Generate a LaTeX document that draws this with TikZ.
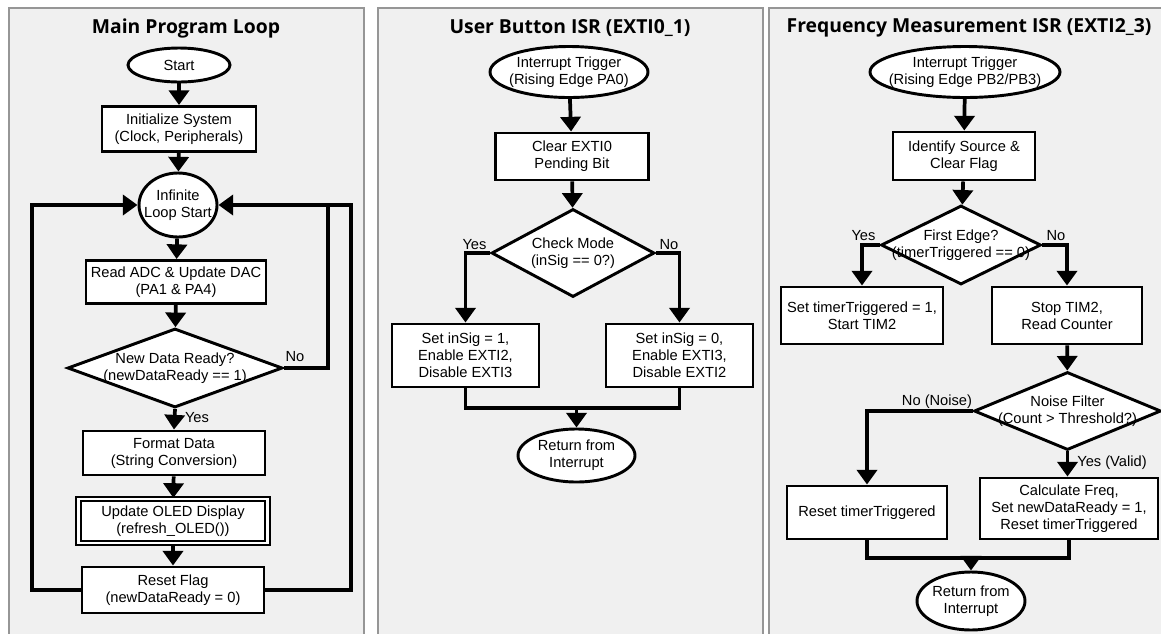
\documentclass[tikz,border=0pt]{standalone}
\usepackage{fontspec}
\setmainfont{Liberation Sans}
\newfontfamily\headfont{Open Sans}
\usetikzlibrary{shapes.geometric, arrows.meta}
\definecolor{panelfill}{RGB}{240,240,240}
\definecolor{panelline}{RGB}{150,150,150}

\tikzset{
  pane/.style={draw=panelline, line width=1pt, fill=panelfill},
  head/.style={font=\headfont\bfseries\fontsize{14.5}{17}\selectfont, inner sep=0pt},
  sz/.style 2 args={minimum width=#1*0.75pt, minimum height=#2*0.75pt},
  body/.style={font=\fontsize{11}{12.8}\selectfont, align=center},
  stepbox/.style={draw, line width=2.2pt, fill=white, body, inner sep=1pt},
  oledbox/.style={draw, line width=1.7pt, double=white, double distance=1.6pt, fill=white, body, inner sep=1pt},
  term/.style={ellipse, draw, line width=2.2pt, fill=white, inner sep=0pt},
  test/.style={diamond, draw, line width=2.2pt, fill=white, inner sep=0pt},
  inner/.style={label={[body, inner sep=0pt]center:#1}},
  flow/.style={line width=2.8pt, -{Triangle[width=15pt, length=11pt]}},
  link/.style={line width=2.8pt},
  tag/.style={body, inner sep=0pt},
}

\begin{document}
\begin{tikzpicture}[x=0.75pt, y=-0.75pt]
\useasboundingbox (0,0) rectangle (1161,633);
\clip (0,0) rectangle (1161,633);
\fill[white] (0,0) rectangle (1161,633);

% three panels
\draw[pane] (9,8) rectangle (364,645);
\draw[pane] (378,8) rectangle (763,645);
\draw[pane] (769,8) rectangle (1175,645);

% ---------------- main program loop ----------------
\node[head] (h1) at (186,28) {Main Program Loop};
\node[term, sz={102}{34}, inner={Start}] (start) at (179,65) {};
\node[stepbox, sz={154}{45}] (init) at (179,129) {Initialize System\\(Clock, Peripherals)};
\node[term, sz={78}{64}, inner={Infinite\\Loop Start}] (loop) at (178,205) {};
\node[stepbox, sz={180}{43}] (adc) at (176,282) {Read ADC \& Update DAC\\(PA1 \& PA4)};
\node[test, sz={215}{79}, inner={New Data Ready?\\(newDataReady == 1)}] (ready) at (175,368) {};
\node[stepbox, sz={182}{44}] (fmt) at (174,453) {Format Data\\(String Conversion)};
\node[oledbox, sz={189}{44}] (oled) at (173,521) {Update OLED Display\\(refresh\_OLED())};
\node[stepbox, sz={182}{46}] (rst) at (173,590) {Reset Flag\\(newDataReady = 0)};

\coordinate (lw) at (32,205);
\coordinate (re) at (351,205);
\coordinate (ne) at (328,205);

\draw[flow] (start) -- (init);
\draw[flow] (init) -- (loop);
\draw[flow] (loop) -- (adc);
\draw[flow] (adc) -- (ready);
\draw[flow] (ready.south) -- (fmt.north);
\draw[flow] (fmt) -- (oled);
\draw[flow] (oled) -- (rst);
\draw[flow] (rst.west) -| (lw) -- (loop.west);
\draw[flow] (rst.east) -| (re) -- (loop.east);
\draw[link] (ready.east) -| (ne);
\node[tag] (no1) at (295,357) {No};
\node[tag] (yes1) at (197,418) {Yes};

% ---------------- user button ISR ----------------
\node[head] (h2) at (570,28) {User Button ISR (EXTI0\_1)};
\node[term, sz={158}{51}, inner={Interrupt Trigger\\(Rising Edge PA0)}] (trig2) at (569,72) {};
\node[stepbox, sz={153}{47}] (clr2) at (572,156.5) {Clear EXTI0\\Pending Bit};
\node[test, sz={163}{88}, inner={Check Mode\\(inSig == 0?)}] (mode) at (573,253) {};
\node[stepbox, sz={147}{63}] (set1) at (465.5,355.5) {Set inSig = 1,\\Enable EXTI2,\\Disable EXTI3};
\node[stepbox, sz={147}{63}] (set0) at (679.5,355.5) {Set inSig = 0,\\Enable EXTI3,\\Disable EXTI2};
\node[term, sz={117}{53}, inner={Return from\\Interrupt}] (ret2) at (576.5,455.5) {};
\coordinate (m2) at (576.5,408);

\draw[flow] (trig2) -- (clr2);
\draw[flow] (clr2) -- (mode);
\draw[flow] (mode.west) -| (set1.north);
\draw[flow] (mode.east) -| (set0.north);
\draw[link] (set1.south) |- (m2) -| (set0.south);
\draw[flow] (m2) -- (ret2);
\node[tag] (yes2) at (474.5,245) {Yes};
\node[tag] (no2) at (669,245) {No};

% ---------------- frequency measurement ISR ----------------
\node[head] (h3) at (969,28) {Frequency Measurement ISR (EXTI2\_3)};
\node[term, sz={190}{51}, inner={Interrupt Trigger\\(Rising Edge PB2/PB3)}] (trig3) at (965,72) {};
\node[stepbox, sz={142}{48}] (ident) at (964,156) {Identify Source \&\\Clear Flag};
\node[test, sz={160}{79}, inner={First Edge?\\(timerTriggered == 0)}] (first) at (961,245) {};
\node[stepbox, sz={162}{57}] (setT) at (862,315.5) {Set timerTriggered = 1,\\Start TIM2};
\node[stepbox, sz={150}{57}] (stop) at (1067,315.5) {Stop TIM2,\\Read Counter};
\node[test, sz={187}{78}, inner={Noise Filter\\(Count > Threshold?)}] (noise) at (1067.5,411) {};
\node[stepbox, sz={160}{53}] (rstT) at (867,512.5) {Reset timerTriggered};
\node[stepbox, sz={178}{61}] (calc) at (1069,508.5) {Calculate Freq,\\Set newDataReady = 1,\\Reset timerTriggered};
\node[term, sz={108}{58}, inner={Return from\\Interrupt}] (ret3) at (971,601) {};
\coordinate (m3) at (971,558);

\draw[flow] (trig3) -- (ident);
\draw[flow] (ident) -- (first);
\draw[flow] (first.west) -| (setT.north);
\draw[flow] (first.east) -| (stop.north);
\draw[flow] (stop) -- (noise);
\draw[flow] (noise.west) -| (rstT.north);
\draw[flow] (noise.south) -- (noise.south |- calc.north);
\draw[link] (rstT.south) |- (m3) -| (calc.south);
\draw[flow] (m3) -- (ret3);
\node[tag] (yes3) at (863.5,236) {Yes};
\node[tag] (no3) at (1056,236) {No};
\node[tag] (noise3) at (937,402) {No (Noise)};
\node[tag] (valid3) at (1112,463) {Yes (Valid)};
\end{tikzpicture}
\end{document}
